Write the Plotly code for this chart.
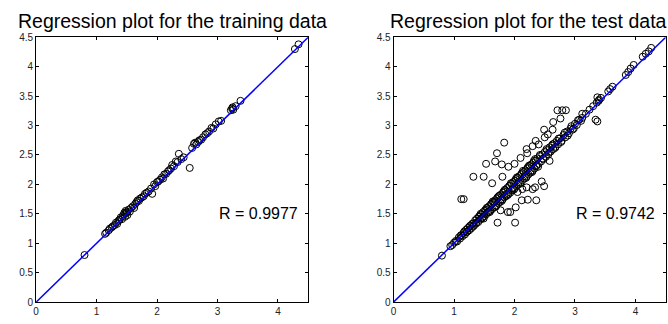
import plotly.graph_objects as go

# ---------------- data ----------------
titles = ["Regression plot for the training data", "Regression plot for the test data"]
r_labels = ["R = 0.9977", "R = 0.9742"]
x_ticks = [0, 1, 2, 3, 4]
y_ticks = [0, 0.5, 1, 1.5, 2, 2.5, 3, 3.5, 4, 4.5]
y_tick_text = ["0", "0.5", "1", "1.5", "2", "2.5", "3", "3.5", "4", "4.5"]
fit_line = [0, 4.5]

train_target = [0.80, 1.14, 1.16, 1.20, 1.22, 1.25, 1.27, 1.30, 1.32, 1.34,
                1.36, 1.38, 1.40, 1.42, 1.43, 1.45, 1.46, 1.47, 1.48, 1.49,
                1.50, 1.51, 1.53, 1.55, 1.57, 1.60, 1.62, 1.64, 1.66, 1.68,
                1.70, 1.72, 1.75, 1.78, 1.80, 1.83, 1.86, 1.90, 1.92, 1.95,
                1.97, 2.00, 2.02, 2.05, 2.08, 2.10, 2.12, 2.15, 2.18, 2.20,
                2.23, 2.25, 2.28, 2.31, 2.34, 2.36, 2.40, 2.44, 2.54, 2.58,
                2.61, 2.63, 2.65, 2.68, 2.70, 2.73, 2.76, 2.80, 2.83, 2.86,
                2.90, 2.93, 2.97, 3.02, 3.06, 3.22, 3.24, 3.25, 3.26, 3.30,
                3.38, 4.28, 4.34]
train_output = [0.80, 1.16, 1.18, 1.22, 1.25, 1.27, 1.29, 1.31, 1.35, 1.33,
                1.38, 1.40, 1.44, 1.41, 1.46, 1.49, 1.52, 1.45, 1.55, 1.51,
                1.53, 1.48, 1.57, 1.54, 1.60, 1.63, 1.60, 1.67, 1.70, 1.73,
                1.72, 1.76, 1.78, 1.80, 1.84, 1.86, 1.88, 1.93, 1.84, 2.00,
                1.97, 2.04, 2.05, 2.08, 2.12, 2.10, 2.17, 2.18, 2.22, 2.24,
                2.27, 2.33, 2.31, 2.39, 2.38, 2.52, 2.43, 2.46, 2.28, 2.62,
                2.69, 2.71, 2.68, 2.72, 2.75, 2.76, 2.80, 2.85, 2.87, 2.90,
                2.96, 2.95, 3.02, 3.07, 3.08, 3.26, 3.29, 3.31, 3.27, 3.33,
                3.42, 4.30, 4.38]

test_target = [
    0.80, 0.94, 0.97, 1.00, 1.03, 1.05, 1.08, 1.10, 1.12, 1.14,
    1.16, 1.18, 1.20, 1.21, 1.23, 1.25, 1.26, 1.28, 1.30, 1.31,
    1.33, 1.35, 1.36, 1.38, 1.40, 1.41, 1.43, 1.45, 1.46, 1.48,
    1.50, 1.51, 1.53, 1.55, 1.56, 1.58, 1.60, 1.61, 1.63, 1.65,
    1.66, 1.68, 1.70, 1.71, 1.73, 1.75, 1.76, 1.78, 1.80, 1.81,
    1.83, 1.85, 1.86, 1.88, 1.90, 1.91, 1.93, 1.95, 1.96, 1.98,
    2.00, 2.01, 2.03, 2.05, 2.06, 2.08, 2.10, 2.11, 2.13, 2.15,
    2.16, 2.18, 2.20, 2.21, 2.23, 2.25, 2.26, 2.28, 2.30, 2.31,
    2.33, 2.35, 2.36, 2.38, 2.40, 2.42, 2.44, 2.46, 2.48, 2.50,
    2.52, 2.54, 2.56, 2.58, 2.60, 2.62, 2.64, 2.66, 2.68, 2.70,
    2.72, 2.75, 2.78, 2.81, 2.84, 2.87, 2.90, 2.93, 2.96, 3.00,
    3.03, 3.07, 3.12, 3.18, 3.24, 3.30, 3.36, 3.40, 3.43, 3.55,
    3.58, 3.62, 3.84, 3.88, 3.92, 3.97, 4.12, 4.17, 4.22, 4.26,
    1.11, 1.17, 1.22, 1.27, 1.32, 1.37, 1.42, 1.47, 1.52, 1.57,
    1.62, 1.67, 1.72, 1.77, 1.82, 1.87, 1.92, 1.97, 2.02, 2.07,
    2.12, 2.17, 2.22, 2.27, 2.32, 2.37, 2.42, 2.47, 2.53, 2.57,
    2.63, 2.67, 2.73, 2.77, 2.83, 2.88, 2.94, 2.98, 3.05, 3.10,
    1.44, 1.49, 1.54, 1.59, 1.64, 1.69, 1.74, 1.79, 1.84, 1.89,
    1.94, 1.99, 2.04, 2.09, 2.14, 2.19, 2.24, 2.29, 2.34, 2.39,
    1.12, 1.16, 1.32, 1.49, 1.53, 1.63, 1.68, 1.71, 1.79, 1.80,
    1.83, 2.21, 2.35, 2.49, 2.63, 2.64, 2.76, 2.71, 2.79, 2.85,
    2.00, 2.10, 2.20, 1.90, 2.50, 2.30, 2.40, 2.55, 3.37, 3.39,
    1.72, 2.01, 1.77, 1.93, 1.89, 2.02, 2.12, 2.22, 2.36, 2.20,
    2.34, 2.05, 2.13, 2.30, 2.49, 3.34, 3.37, 3.12, 2.45, 2.58]
test_output = [
    0.79, 0.95, 0.97, 1.01, 1.04, 1.03, 1.10, 1.08, 1.14, 1.12,
    1.18, 1.15, 1.23, 1.19, 1.26, 1.22, 1.29, 1.25, 1.33, 1.28,
    1.30, 1.39, 1.33, 1.42, 1.36, 1.45, 1.40, 1.49, 1.42, 1.53,
    1.46, 1.55, 1.49, 1.60, 1.52, 1.63, 1.55, 1.66, 1.58, 1.70,
    1.61, 1.73, 1.64, 1.76, 1.68, 1.81, 1.70, 1.83, 1.74, 1.86,
    1.78, 1.90, 1.80, 1.94, 1.84, 1.97, 1.86, 2.01, 1.90, 2.04,
    1.93, 2.06, 1.97, 2.11, 2.00, 2.14, 2.03, 2.17, 2.07, 2.21,
    2.10, 2.24, 2.13, 2.27, 2.17, 2.31, 2.20, 2.34, 2.23, 2.37,
    2.27, 2.40, 2.31, 2.44, 2.35, 2.48, 2.39, 2.51, 2.43, 2.55,
    2.47, 2.58, 2.51, 2.63, 2.56, 2.66, 2.60, 2.70, 2.64, 2.74,
    2.68, 2.78, 2.74, 2.84, 2.80, 2.90, 2.87, 2.95, 2.93, 3.03,
    3.01, 3.10, 3.13, 3.20, 3.27, 3.33, 3.39, 3.44, 3.47, 3.58,
    3.62, 3.66, 3.86, 3.91, 3.97, 4.03, 4.17, 4.22, 4.26, 4.32,
    1.13, 1.20, 1.20, 1.30, 1.34, 1.35, 1.46, 1.44, 1.57, 1.54,
    1.67, 1.70, 1.78, 1.74, 1.88, 1.83, 1.98, 1.93, 2.09, 2.04,
    2.19, 2.14, 2.29, 2.23, 2.40, 2.33, 2.50, 2.44, 2.60, 2.54,
    2.68, 2.62, 2.78, 2.72, 2.88, 2.83, 2.99, 2.95, 3.09, 3.08,
    1.50, 1.42, 1.60, 1.53, 1.71, 1.62, 1.80, 1.72, 1.91, 1.82,
    2.02, 1.91, 2.12, 2.01, 2.23, 2.11, 2.32, 2.21, 2.43, 2.30,
    1.75, 1.75, 2.13, 2.13, 2.35, 2.02, 2.39, 2.53, 2.34, 2.13,
    2.71, 2.53, 2.74, 2.93, 2.93, 3.06, 3.12, 3.26, 3.26, 3.26,
    2.35, 2.45, 2.60, 2.30, 2.80, 2.65, 2.68, 2.85, 3.48, 3.42,
    1.35, 1.35, 1.56, 1.53, 1.53, 1.61, 1.73, 1.74, 1.73, 1.95,
    1.95, 1.87, 1.92, 1.92, 1.97, 3.10, 3.07, 3.20, 2.05, 2.40]

# ---------------- figure ----------------
W, H = 668, 324
x_domains = [[33.3 / W, 306.6 / W], [392.3 / W, 665.7 / W]]
y_domain = [1 - 307.5 / H, 1 - 32.5 / H]
title_x = [170 / W, 527.5 / W]

fig = go.Figure()
datasets = [(train_target, train_output), (test_target, test_output)]

FONT = "Liberation Sans, Arial, sans-serif"

for i, (tx, ty) in enumerate(datasets):
    xa = "x" if i == 0 else "x2"
    ya = "y" if i == 0 else "y2"
    fig.add_trace(go.Scatter(
        x=tx, y=ty, mode="markers", xaxis=xa, yaxis=ya,
        marker=dict(symbol="circle-open", size=7, color="black",
                    line=dict(width=1, color="black")),
        showlegend=False, hoverinfo="skip"))
    fig.add_trace(go.Scatter(
        x=fit_line, y=fit_line, mode="lines", xaxis=xa, yaxis=ya,
        line=dict(color="#0000ff", width=1.5),
        showlegend=False, hoverinfo="skip"))

axis_common = dict(
    range=[0, 4.5], showgrid=False, zeroline=False,
    showline=True, linecolor="black", linewidth=1, mirror="ticks",
    ticks="inside", ticklen=3, tickwidth=1, tickcolor="black",
    tickfont=dict(family=FONT, size=10, color="#222222"),
)

fig.update_layout(
    width=W, height=H,
    margin=dict(l=0, r=0, t=0, b=0),
    paper_bgcolor="white", plot_bgcolor="white",
    xaxis=dict(domain=x_domains[0], anchor="y", tickvals=x_ticks, **axis_common),
    yaxis=dict(domain=y_domain, anchor="x", tickvals=y_ticks, ticktext=y_tick_text, **axis_common),
    xaxis2=dict(domain=x_domains[1], anchor="y2", tickvals=x_ticks, **axis_common),
    yaxis2=dict(domain=y_domain, anchor="x2", tickvals=y_ticks, ticktext=y_tick_text, **axis_common),
)

annotations = []
for i in range(2):
    annotations.append(dict(
        text=titles[i], xref="paper", yref="paper", x=title_x[i], y=1 - 16 / H,
        xanchor="center", yanchor="middle", showarrow=False,
        font=dict(family=FONT, size=19.5, color="black")))
    annotations.append(dict(
        text=r_labels[i], xref="x" if i == 0 else "x2", yref="y" if i == 0 else "y2",
        x=3.67, y=1.51, xanchor="center", yanchor="middle", showarrow=False,
        font=dict(family=FONT, size=16, color="black")))
fig.update_layout(annotations=annotations)

fig.write_html(
    "out.html",
    config={"displayModeBar": False, "staticPlot": True},
    post_script="document.body.style.margin='0';document.body.style.overflow='hidden';",
)
